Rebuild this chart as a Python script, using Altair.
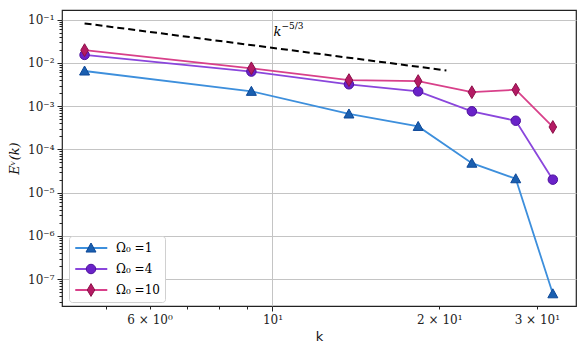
import altair as alt
import pandas as pd

# ---------------- data ----------------
k_vals = [4.58, 9.16, 13.74, 18.32, 22.9, 27.48, 32.06]
E_omega1 = [6.5e-3, 2.2e-3, 6.6e-4, 3.4e-4, 4.8e-5, 2.1e-5, 4.6e-8]
E_omega4 = [1.53e-2, 6.3e-3, 3.2e-3, 2.2e-3, 7.6e-4, 4.6e-4, 2.0e-5]
E_omega10 = [1.97e-2, 7.5e-3, 4.0e-3, 3.8e-3, 2.1e-3, 2.4e-3, 3.3e-4]
series_names = ["Ω₀ =1", "Ω₀ =4", "Ω₀ =10"]
marker_names = [n + " " for n in series_names]   # separate key for the marker legend

ref_k = [4.58, 20.6]          # k^{-5/3} guide line end points
ref_E = [0.0818, 0.0067]
ann_k = [10]
ann_E = [0.042]

x_major = [10]
x_minor = [5, 6, 7, 8, 9, 20, 30]
y_major = [1e-7, 1e-6, 1e-5, 1e-4, 1e-3, 1e-2, 1e-1]
y_minor = [m * 10.0 ** e for e in range(-8, 0) for m in range(2, 10)
           if 2.4e-8 <= m * 10.0 ** e <= 0.167]

line_colors = ["#3d8fdc", "#8a46dc", "#d8408a"]
face_colors = ["#1a5fb0", "#6a22c8", "#b41a64"]
edge_colors = ["#0d4898", "#4e119e", "#8c1048"]
tri_path = "M0,-1.05L1.05,0.85L-1.05,0.85Z"
dia_path = "M0,-1.35L0.8,0L0,1.35L-0.8,0Z"
marker_shapes = [tri_path, "circle", dia_path]

rows = []
for name, mname, vals in zip(series_names, marker_names, [E_omega1, E_omega4, E_omega10]):
    for kk, ee in zip(k_vals, vals):
        rows.append({"k": kk, "E": ee, "series": name, "series2": mname})
df = pd.DataFrame(rows)
ref_df = pd.DataFrame({"k": ref_k, "E": ref_E})
ann_df = pd.DataFrame({"k": ann_k, "E": ann_E})

# ---------------- scales / axes ----------------
xs = alt.Scale(type="log", domain=[4.17, 35.3], nice=False)
ys = alt.Scale(type="log", domain=[2.4e-8, 0.167], nice=False)

SERIF = "DejaVu Serif"
sup = {-1: "⁻¹", -2: "⁻²", -3: "⁻³", -4: "⁻⁴", -5: "⁻⁵", -6: "⁻⁶", -7: "⁻⁷"}
y_expr = " : ".join(f"datum.label == '1e{e}' ? '10{s}'" for e, s in sup.items()) + " : ''"

x_major_axis = alt.Axis(values=x_major, orient="bottom", grid=True, tickSize=5,
                        labelExpr="'10¹'", title="k", titleFont="DejaVu Sans",
                        titleFontSize=13, titleFontWeight="normal", titlePadding=5,
                        domain=False, labelPadding=3)
x_minor_axis = alt.Axis(values=x_minor, orient="bottom", grid=False, tickSize=3,
                        labelExpr="datum.value == 6 ? '6 × 10⁰' : datum.value == 20 ? '2 × 10¹' : datum.value == 30 ? '3 × 10¹' : ''",
                        title=None, domain=False, labelPadding=5)
y_major_axis = alt.Axis(values=y_major, orient="left", grid=True, tickSize=5,
                        format=".0e", labelExpr=y_expr, title="Eᵛ(k)",
                        titleFont=SERIF, titleFontStyle="italic", titleFontSize=13,
                        titleFontWeight="normal", titlePadding=6, domain=False,
                        labelPadding=3)
y_minor_axis = alt.Axis(values=y_minor, orient="left", grid=False, tickSize=3,
                        labels=False, title=None, domain=False)

# ---------------- legends ----------------
leg_common = dict(orient="none", title=None, labelFont=SERIF, labelFontSize=12,
                  rowPadding=7, padding=5, symbolSize=90, legendY=226, clipHeight=14)
legend_lines = alt.Legend(legendX=7, symbolType="M-1,0H5.75", symbolStrokeWidth=1.8,
                          labelOffset=30, fillColor="white", strokeColor="#d0d0d0",
                          cornerRadius=3, labelColor="black", **leg_common)
legend_marks = alt.Legend(legendX=18, symbolStrokeWidth=1, labelOffset=30,
                          labelExpr="''", symbolOpacity=1, **leg_common)

# ---------------- layers ----------------
ref_line = alt.Chart(ref_df).mark_line(color="black", strokeDash=[7, 4], strokeWidth=2).encode(
    x=alt.X("k:Q", scale=xs, axis=x_major_axis),
    y=alt.Y("E:Q", scale=ys, axis=y_major_axis),
)

lines = alt.Chart(df).mark_line(strokeWidth=1.8).encode(
    x=alt.X("k:Q", scale=xs, axis=x_minor_axis),
    y=alt.Y("E:Q", scale=ys, axis=y_minor_axis),
    color=alt.Color("series:N", scale=alt.Scale(domain=series_names, range=line_colors),
                    legend=legend_lines),
    detail="series:N",
)

points = alt.Chart(df).mark_point(filled=True, size=90, strokeWidth=1, opacity=1).encode(
    x=alt.X("k:Q", scale=xs, axis=None),
    y=alt.Y("E:Q", scale=ys, axis=None),
    fill=alt.Fill("series2:N", scale=alt.Scale(domain=marker_names, range=face_colors),
                  legend=legend_marks),
    stroke=alt.Stroke("series2:N", scale=alt.Scale(domain=marker_names, range=edge_colors),
                      legend=legend_marks),
    shape=alt.Shape("series2:N", scale=alt.Scale(domain=marker_names, range=marker_shapes),
                    legend=legend_marks),
)

ann_k_text = alt.Chart(ann_df).mark_text(text="k", font=SERIF, fontStyle="italic",
                                         fontSize=13, align="left", baseline="alphabetic",
                                         dx=1, color="black").encode(
    x=alt.X("k:Q", scale=xs, axis=None),
    y=alt.Y("E:Q", scale=ys, axis=None),
)
ann_exp_text = alt.Chart(ann_df).mark_text(text="−5/3", font=SERIF, fontSize=9,
                                           align="left", baseline="alphabetic",
                                           dx=9, dy=-7, color="black").encode(
    x=alt.X("k:Q", scale=xs, axis=None),
    y=alt.Y("E:Q", scale=ys, axis=None),
)

chart = alt.layer(ref_line, lines, points, ann_k_text, ann_exp_text).resolve_axis(
    x="independent", y="independent"
).properties(
    width=514, height=296,
    autosize=alt.AutoSizeParams(type="none"),
    padding={"left": 54, "top": 2, "right": 1, "bottom": 38},
).configure_view(
    stroke="#222222", strokeWidth=1.2, fill="white"
).configure_axis(
    labelFont=SERIF, labelFontSize=12, labelColor="#222222",
    tickColor="#222222", tickWidth=1, gridColor="#c4c4c4", gridWidth=1,
    titleColor="#111111",
)

chart.save("out.html", embed_options={"renderer": "svg", "actions": False})
